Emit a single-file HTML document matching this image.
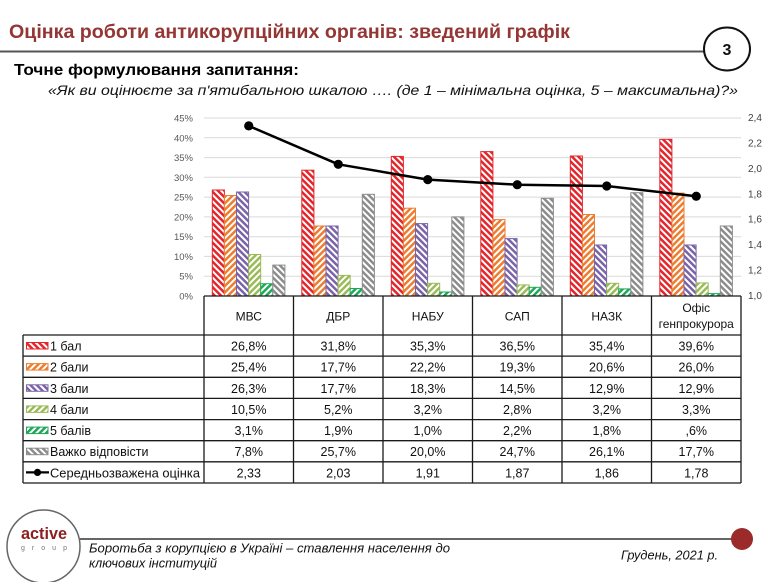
<!DOCTYPE html>
<html><head><meta charset="utf-8"><style>
html,body{margin:0;padding:0;background:#fff;}
svg{display:block;}
text{font-family:"Liberation Sans","DejaVu Sans",sans-serif;}
</style></head><body>
<svg width="780" height="582" viewBox="0 0 780 582" xmlns="http://www.w3.org/2000/svg">
<defs>
<pattern id="pR" patternUnits="userSpaceOnUse" width="4.5" height="4.5" patternTransform="rotate(-45)"><rect width="4.5" height="4.5" fill="#fff"/><rect width="2.5" height="4.5" fill="#e3262c"/></pattern>
<pattern id="pO" patternUnits="userSpaceOnUse" width="4.5" height="4.5" patternTransform="rotate(45)"><rect width="4.5" height="4.5" fill="#fff"/><rect width="2.5" height="4.5" fill="#ed7d31"/></pattern>
<pattern id="pP" patternUnits="userSpaceOnUse" width="4.5" height="4.5" patternTransform="rotate(-45)"><rect width="4.5" height="4.5" fill="#fff"/><rect width="2.5" height="4.5" fill="#7a64a8"/></pattern>
<pattern id="pL" patternUnits="userSpaceOnUse" width="4.5" height="4.5" patternTransform="rotate(45)"><rect width="4.5" height="4.5" fill="#fff"/><rect width="2.5" height="4.5" fill="#9bbb59"/></pattern>
<pattern id="pG" patternUnits="userSpaceOnUse" width="4.5" height="4.5" patternTransform="rotate(45)"><rect width="4.5" height="4.5" fill="#fff"/><rect width="2.5" height="4.5" fill="#1fa85a"/></pattern>
<pattern id="pY" patternUnits="userSpaceOnUse" width="4.5" height="4.5" patternTransform="rotate(-45)"><rect width="4.5" height="4.5" fill="#fff"/><rect width="2.5" height="4.5" fill="#8c8c8c"/></pattern>
</defs>

<!-- Header -->
<text x="9" y="38" font-size="19" font-weight="bold" fill="#943634" textLength="561" lengthAdjust="spacingAndGlyphs">Оцінка роботи антикорупційних органів: зведений графік</text>
<line x1="0" y1="51.5" x2="704" y2="51.5" stroke="#555" stroke-width="2"/>
<ellipse cx="727" cy="49" rx="23" ry="21.5" fill="#fff" stroke="#111" stroke-width="2"/>
<text x="727" y="55" font-size="16" font-weight="bold" fill="#111" text-anchor="middle">3</text>
<text x="14" y="75" font-size="16" font-weight="bold" fill="#000" textLength="285" lengthAdjust="spacingAndGlyphs">Точне формулювання запитання:</text>
<text x="48" y="95" font-size="14" font-style="italic" fill="#111" textLength="690" lengthAdjust="spacingAndGlyphs">«Як ви оцінюєте за п'ятибальною шкалою …. (де 1 – мінімальна оцінка, 5 – максимальна)?»</text>

<!-- Gridlines -->
<g stroke="#d9d9d9" stroke-width="1">
<line x1="204" y1="118" x2="741" y2="118"/>
<line x1="204" y1="137.8" x2="741" y2="137.8"/>
<line x1="204" y1="157.6" x2="741" y2="157.6"/>
<line x1="204" y1="177.3" x2="741" y2="177.3"/>
<line x1="204" y1="197.1" x2="741" y2="197.1"/>
<line x1="204" y1="216.9" x2="741" y2="216.9"/>
<line x1="204" y1="236.7" x2="741" y2="236.7"/>
<line x1="204" y1="256.4" x2="741" y2="256.4"/>
<line x1="204" y1="276.2" x2="741" y2="276.2"/>
</g>

<!-- Left axis labels -->
<g font-size="9.5" fill="#595959" text-anchor="end">
<text x="193" y="121.5">45%</text>
<text x="193" y="141.3">40%</text>
<text x="193" y="161.1">35%</text>
<text x="193" y="180.8">30%</text>
<text x="193" y="200.6">25%</text>
<text x="193" y="220.4">20%</text>
<text x="193" y="240.2">15%</text>
<text x="193" y="259.9">10%</text>
<text x="193" y="279.7">5%</text>
<text x="193" y="299.5">0%</text>
</g>
<!-- Right axis labels -->
<g font-size="10" fill="#404040">
<text x="748" y="121">2,4</text>
<text x="748" y="146.4">2,2</text>
<text x="748" y="171.9">2,0</text>
<text x="748" y="197.3">1,8</text>
<text x="748" y="222.7">1,6</text>
<text x="748" y="248.1">1,4</text>
<text x="748" y="273.6">1,2</text>
<text x="748" y="299">1,0</text>
</g>

<!-- Bars -->
<g stroke-width="1">
<rect x="212.3" y="190" width="12.1" height="106" fill="url(#pR)" stroke="#e3262c"/>
<rect x="224.4" y="195.5" width="12.1" height="100.5" fill="url(#pO)" stroke="#ed7d31"/>
<rect x="236.5" y="192" width="12.1" height="104" fill="url(#pP)" stroke="#7a64a8"/>
<rect x="248.6" y="254.5" width="12.1" height="41.5" fill="url(#pL)" stroke="#9bbb59"/>
<rect x="260.7" y="283.7" width="12.1" height="12.3" fill="url(#pG)" stroke="#1fa85a"/>
<rect x="272.8" y="265.1" width="12.1" height="30.9" fill="url(#pY)" stroke="#8c8c8c"/>

<rect x="301.8" y="170.2" width="12.1" height="125.8" fill="url(#pR)" stroke="#e3262c"/>
<rect x="313.9" y="226" width="12.1" height="70" fill="url(#pO)" stroke="#ed7d31"/>
<rect x="326" y="226" width="12.1" height="70" fill="url(#pP)" stroke="#7a64a8"/>
<rect x="338.1" y="275.4" width="12.1" height="20.6" fill="url(#pL)" stroke="#9bbb59"/>
<rect x="350.2" y="288.5" width="12.1" height="7.5" fill="url(#pG)" stroke="#1fa85a"/>
<rect x="362.3" y="194.3" width="12.1" height="101.7" fill="url(#pY)" stroke="#8c8c8c"/>

<rect x="391.3" y="156.4" width="12.1" height="139.6" fill="url(#pR)" stroke="#e3262c"/>
<rect x="403.4" y="208.2" width="12.1" height="87.8" fill="url(#pO)" stroke="#ed7d31"/>
<rect x="415.5" y="223.6" width="12.1" height="72.4" fill="url(#pP)" stroke="#7a64a8"/>
<rect x="427.6" y="283.3" width="12.1" height="12.7" fill="url(#pL)" stroke="#9bbb59"/>
<rect x="439.7" y="292" width="12.1" height="4" fill="url(#pG)" stroke="#1fa85a"/>
<rect x="451.8" y="216.9" width="12.1" height="79.1" fill="url(#pY)" stroke="#8c8c8c"/>

<rect x="480.8" y="151.6" width="12.1" height="144.4" fill="url(#pR)" stroke="#e3262c"/>
<rect x="492.9" y="219.6" width="12.1" height="76.4" fill="url(#pO)" stroke="#ed7d31"/>
<rect x="505" y="238.6" width="12.1" height="57.4" fill="url(#pP)" stroke="#7a64a8"/>
<rect x="517.1" y="284.9" width="12.1" height="11.1" fill="url(#pL)" stroke="#9bbb59"/>
<rect x="529.2" y="287.3" width="12.1" height="8.7" fill="url(#pG)" stroke="#1fa85a"/>
<rect x="541.3" y="198.3" width="12.1" height="97.7" fill="url(#pY)" stroke="#8c8c8c"/>

<rect x="570.3" y="156" width="12.1" height="140" fill="url(#pR)" stroke="#e3262c"/>
<rect x="582.4" y="214.5" width="12.1" height="81.5" fill="url(#pO)" stroke="#ed7d31"/>
<rect x="594.5" y="245" width="12.1" height="51" fill="url(#pP)" stroke="#7a64a8"/>
<rect x="606.6" y="283.3" width="12.1" height="12.7" fill="url(#pL)" stroke="#9bbb59"/>
<rect x="618.7" y="288.9" width="12.1" height="7.1" fill="url(#pG)" stroke="#1fa85a"/>
<rect x="630.8" y="192.7" width="12.1" height="103.3" fill="url(#pY)" stroke="#8c8c8c"/>

<rect x="659.8" y="139.3" width="12.1" height="156.7" fill="url(#pR)" stroke="#e3262c"/>
<rect x="671.9" y="193.1" width="12.1" height="102.9" fill="url(#pO)" stroke="#ed7d31"/>
<rect x="684" y="245" width="12.1" height="51" fill="url(#pP)" stroke="#7a64a8"/>
<rect x="696.1" y="282.9" width="12.1" height="13.1" fill="url(#pL)" stroke="#9bbb59"/>
<rect x="708.2" y="293.6" width="12.1" height="2.4" fill="url(#pG)" stroke="#1fa85a"/>
<rect x="720.3" y="226" width="12.1" height="70" fill="url(#pY)" stroke="#8c8c8c"/>
</g>

<!-- Line series -->
<polyline points="248.75,125.9 338.25,164.3 427.75,179.6 517.25,184.7 606.75,186 696.25,196.2" fill="none" stroke="#000" stroke-width="2.5" stroke-linejoin="round"/>
<g fill="#000">
<circle cx="248.75" cy="125.9" r="4.6"/>
<circle cx="338.25" cy="164.3" r="4.6"/>
<circle cx="427.75" cy="179.6" r="4.6"/>
<circle cx="517.25" cy="184.7" r="4.6"/>
<circle cx="606.75" cy="186" r="4.6"/>
<circle cx="696.25" cy="196.2" r="4.6"/>
</g>

<!-- Data table borders -->
<g stroke="#1a1a1a" stroke-width="1.3" fill="none">
<line x1="204" y1="296" x2="741" y2="296"/>
<line x1="23" y1="335" x2="741" y2="335"/>
<line x1="23" y1="356.1" x2="741" y2="356.1"/>
<line x1="23" y1="377.3" x2="741" y2="377.3"/>
<line x1="23" y1="398.4" x2="741" y2="398.4"/>
<line x1="23" y1="419.6" x2="741" y2="419.6"/>
<line x1="23" y1="440.7" x2="741" y2="440.7"/>
<line x1="23" y1="461.8" x2="741" y2="461.8"/>
<line x1="23" y1="483" x2="741" y2="483"/>
<line x1="23" y1="335" x2="23" y2="483"/>
<line x1="204" y1="296" x2="204" y2="483"/>
<line x1="293.5" y1="296" x2="293.5" y2="483"/>
<line x1="383" y1="296" x2="383" y2="483"/>
<line x1="472.5" y1="296" x2="472.5" y2="483"/>
<line x1="562" y1="296" x2="562" y2="483"/>
<line x1="651.5" y1="296" x2="651.5" y2="483"/>
<line x1="741" y1="296" x2="741" y2="483"/>
</g>

<!-- Header cells -->
<g font-size="12" fill="#111" text-anchor="middle">
<text x="248.75" y="320.5">МВС</text>
<text x="338.25" y="320.5">ДБР</text>
<text x="427.75" y="320.5">НАБУ</text>
<text x="517.25" y="320.5">САП</text>
<text x="606.75" y="320.5">НАЗК</text>
<text x="696.25" y="312">Офіс</text>
<text x="696.25" y="328">генпрокурора</text>
</g>

<!-- Legend cells -->
<g stroke-width="1">
<rect x="26.5" y="342.5" width="21.5" height="6.5" fill="url(#pR)" stroke="#e3262c"/>
<rect x="26.5" y="363.6" width="21.5" height="6.5" fill="url(#pO)" stroke="#ed7d31"/>
<rect x="26.5" y="384.8" width="21.5" height="6.5" fill="url(#pP)" stroke="#7a64a8"/>
<rect x="26.5" y="405.9" width="21.5" height="6.5" fill="url(#pL)" stroke="#9bbb59"/>
<rect x="26.5" y="427.1" width="21.5" height="6.5" fill="url(#pG)" stroke="#1fa85a"/>
<rect x="26.5" y="448.2" width="21.5" height="6.5" fill="url(#pY)" stroke="#8c8c8c"/>
</g>
<line x1="26" y1="472.4" x2="49" y2="472.4" stroke="#000" stroke-width="2.2"/>
<circle cx="37.5" cy="472.4" r="3.6" fill="#000"/>
<g font-size="12.5" fill="#111">
<text x="50" y="350.5">1 бал</text>
<text x="50" y="371.6">2 бали</text>
<text x="50" y="392.8">3 бали</text>
<text x="50" y="413.9">4 бали</text>
<text x="50" y="435.1">5 балів</text>
<text x="50" y="456.2">Важко відповісти</text>
<text x="50" y="477.4" textLength="150" lengthAdjust="spacingAndGlyphs">Середньозважена оцінка</text>
</g>

<!-- Values -->
<g font-size="12.5" fill="#111" text-anchor="middle">
<text x="248.75" y="350.5">26,8%</text><text x="338.25" y="350.5">31,8%</text><text x="427.75" y="350.5">35,3%</text><text x="517.25" y="350.5">36,5%</text><text x="606.75" y="350.5">35,4%</text><text x="696.25" y="350.5">39,6%</text>
<text x="248.75" y="371.6">25,4%</text><text x="338.25" y="371.6">17,7%</text><text x="427.75" y="371.6">22,2%</text><text x="517.25" y="371.6">19,3%</text><text x="606.75" y="371.6">20,6%</text><text x="696.25" y="371.6">26,0%</text>
<text x="248.75" y="392.8">26,3%</text><text x="338.25" y="392.8">17,7%</text><text x="427.75" y="392.8">18,3%</text><text x="517.25" y="392.8">14,5%</text><text x="606.75" y="392.8">12,9%</text><text x="696.25" y="392.8">12,9%</text>
<text x="248.75" y="413.9">10,5%</text><text x="338.25" y="413.9">5,2%</text><text x="427.75" y="413.9">3,2%</text><text x="517.25" y="413.9">2,8%</text><text x="606.75" y="413.9">3,2%</text><text x="696.25" y="413.9">3,3%</text>
<text x="248.75" y="435.1">3,1%</text><text x="338.25" y="435.1">1,9%</text><text x="427.75" y="435.1">1,0%</text><text x="517.25" y="435.1">2,2%</text><text x="606.75" y="435.1">1,8%</text><text x="696.25" y="435.1">,6%</text>
<text x="248.75" y="456.2">7,8%</text><text x="338.25" y="456.2">25,7%</text><text x="427.75" y="456.2">20,0%</text><text x="517.25" y="456.2">24,7%</text><text x="606.75" y="456.2">26,1%</text><text x="696.25" y="456.2">17,7%</text>
<text x="248.75" y="477.4">2,33</text><text x="338.25" y="477.4">2,03</text><text x="427.75" y="477.4">1,91</text><text x="517.25" y="477.4">1,87</text><text x="606.75" y="477.4">1,86</text><text x="696.25" y="477.4">1,78</text>
</g>

<!-- Footer -->
<line x1="80" y1="539" x2="740" y2="539" stroke="#666" stroke-width="2"/>
<circle cx="742" cy="539" r="11" fill="#9b2b2b"/>
<circle cx="43.5" cy="546.5" r="36.5" fill="#fff" stroke="#666" stroke-width="1.5"/>
<text x="21" y="539" font-size="17" font-weight="bold" fill="#8b1e1e" textLength="46" lengthAdjust="spacingAndGlyphs">active</text>
<text x="21" y="550" font-size="7" fill="#777" textLength="46" lengthAdjust="spacing">group</text>
<text x="89" y="552.5" font-size="12.5" font-style="italic" fill="#111" textLength="361" lengthAdjust="spacingAndGlyphs">Боротьба з корупцією в Україні – ставлення населення до</text>
<text x="89" y="567.5" font-size="12.5" font-style="italic" fill="#111" textLength="128" lengthAdjust="spacingAndGlyphs">ключових інституцій</text>
<text x="621" y="559.5" font-size="12.5" font-style="italic" fill="#111" textLength="97" lengthAdjust="spacingAndGlyphs">Грудень, 2021 р.</text>
</svg>
</body></html>
